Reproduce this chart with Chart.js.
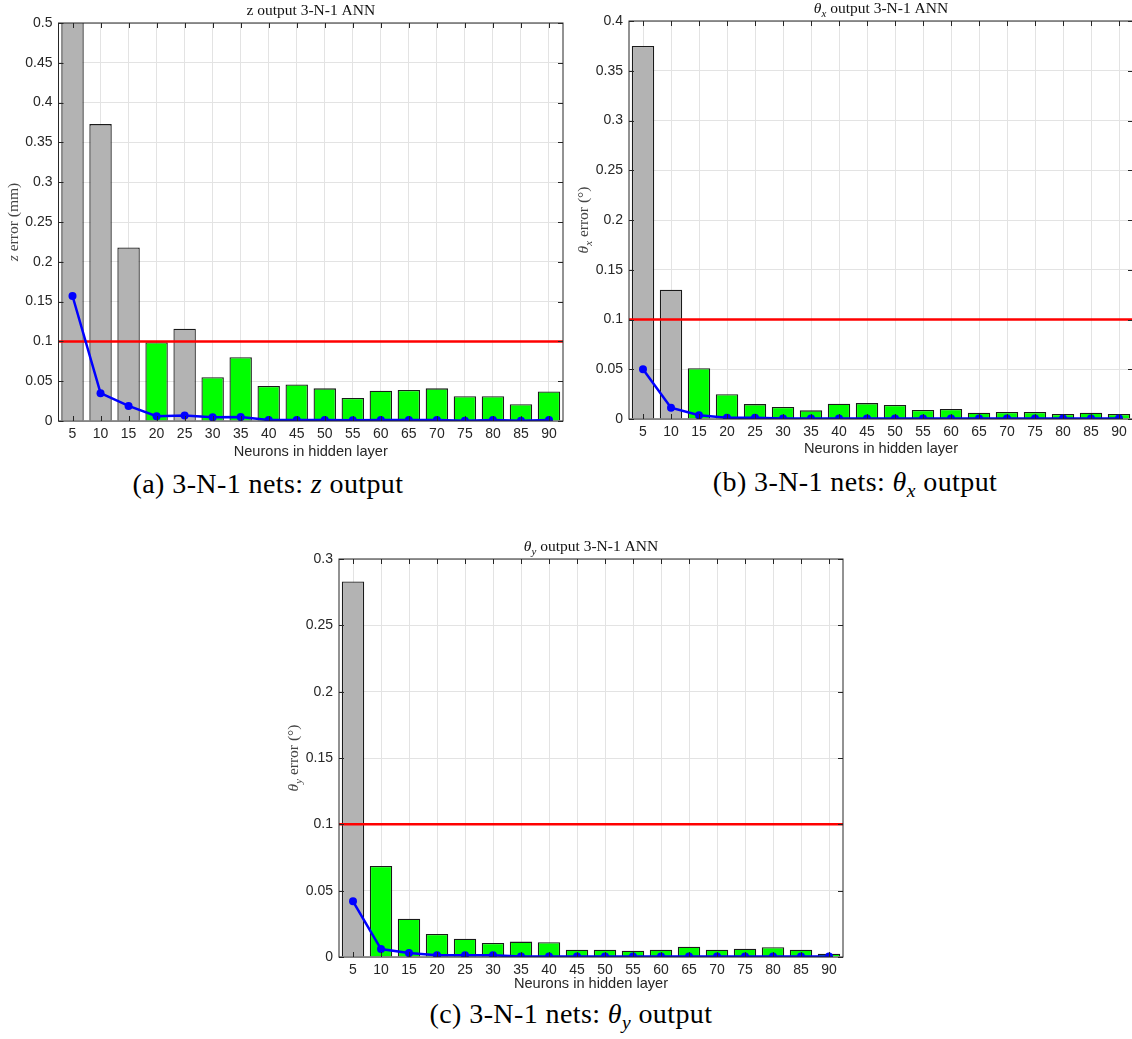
<!DOCTYPE html>
<html>
<head>
<meta charset="utf-8">
<script src="https://cdn.jsdelivr.net/npm/chart.js@4.4.1/dist/chart.umd.min.js"></script>
<style>
  body { margin: 0; width: 1132px; height: 1039px; overflow: hidden; background: #fff; position: relative; }
  canvas { position: absolute; }
  .cap { position: absolute; font-family: 'Liberation Serif', serif; font-size: 28px; color: #000;
         letter-spacing: 0.4px; white-space: nowrap; transform: translate(-50%, -50%); }
  .cap sub { font-size: 70%; vertical-align: -0.3em; }
</style>
</head>
<body>
<canvas id="chartZ" width="580" height="465" style="left:0;top:0"></canvas>
<canvas id="chartTx" width="580" height="462" style="left:570px;top:0"></canvas>
<canvas id="chartTy" width="580" height="462" style="left:280px;top:535px"></canvas>

<div class="cap" style="left:268px;top:484px">(a) 3-N-1 nets: <i>z</i> output</div>
<div class="cap" style="left:855px;top:484px">(b) 3-N-1 nets: <i>θ<sub>x</sub></i> output</div>
<div class="cap" style="left:571px;top:1016px">(c) 3-N-1 nets: <i>θ<sub>y</sub></i> output</div>

<script>
// neurons in the hidden layer
const neurons = [5, 10, 15, 20, 25, 30, 35, 40, 45, 50, 55, 60, 65, 70, 75, 80, 85, 90];
const threshold = 0.1;

// z output (mm)
const zError = [0.62, 0.373, 0.218, 0.099, 0.116, 0.055, 0.080, 0.044, 0.046, 0.041, 0.029,
  0.038, 0.039, 0.041, 0.031, 0.031, 0.021, 0.037];
const zBest = [0.157, 0.035, 0.019, 0.006, 0.007, 0.0046, 0.005, 0.0012, 0.0012, 0.0012, 0.001,
  0.0012, 0.0013, 0.0012, 0.0004, 0.0012, 0.0003, 0.0012];

// theta x output (deg)
const txError = [0.375, 0.130, 0.051, 0.025, 0.015, 0.012, 0.0087, 0.0154, 0.016, 0.014, 0.009,
  0.010, 0.0064, 0.007, 0.007, 0.005, 0.0064, 0.005];
const txBest = [0.050, 0.0114, 0.0037, 0.0013, 0.0012, 0.0004, 0.0004, 0.0004, 0.0004, 0.0004,
  0.0004, 0.0004, 0.0004, 0.0004, 0.0004, 0.0004, 0.0004, 0.0004];

// theta y output (deg)
const tyError = [0.283, 0.0686, 0.0289, 0.0173, 0.0138, 0.0106, 0.0116, 0.0111, 0.0055, 0.0055,
  0.0048, 0.0055, 0.0078, 0.0055, 0.0063, 0.0073, 0.0055, 0.0025];
const tyBest = [0.042, 0.006, 0.003, 0.0013, 0.0013, 0.0013, 0.0003, 0.0003, 0.0003, 0.0003,
  0.0003, 0.0003, 0.0003, 0.0003, 0.0003, 0.0003, 0.0003, 0.0003];

const INK = '#262626';
const GRID = '#e3e3e3';
const SERIF = "'Liberation Serif', serif";
const SANS = "'Liberation Sans', Arial, sans-serif";

// draw a row of text pieces, some italic, some subscript
function drawRich(ctx, parts, x, y, size, color) {
  const fontOf = p => `${p.i ? 'italic ' : ''}${p.sub ? size * 0.7 : size}px ${SERIF}`;
  let total = 0;
  parts.forEach(p => { ctx.font = fontOf(p); total += ctx.measureText(p.t).width; });
  let cx = x - total / 2;
  ctx.fillStyle = color;
  ctx.textBaseline = 'middle';
  ctx.textAlign = 'left';
  parts.forEach(p => {
    ctx.font = fontOf(p);
    ctx.fillText(p.t, cx, p.sub ? y + size * 0.3 : y);
    cx += ctx.measureText(p.t).width;
  });
}

const framePlugin = {
  id: 'frame',
  afterDatasetsDraw(chart, args, opts) {
    const { ctx, chartArea: a, scales: { x, y } } = chart;
    ctx.save();
    ctx.strokeStyle = INK;
    ctx.lineWidth = 1;
    ctx.strokeRect(a.left, a.top, a.right - a.left, a.bottom - a.top);
    ctx.beginPath();
    x.ticks.forEach(t => {
      const px = Math.round(x.getPixelForValue(t.value)) + 0.5;
      ctx.moveTo(px, a.bottom); ctx.lineTo(px, a.bottom - 5);
      ctx.moveTo(px, a.top); ctx.lineTo(px, a.top + 5);
    });
    y.ticks.forEach(t => {
      const py = Math.round(y.getPixelForValue(t.value)) + 0.5;
      ctx.moveTo(a.left, py); ctx.lineTo(a.left + 5, py);
      ctx.moveTo(a.right, py); ctx.lineTo(a.right - 5, py);
    });
    ctx.stroke();

    drawRich(ctx, opts.title, (a.left + a.right) / 2, a.top - 12, 15.5, '#111');
    ctx.translate(14, (a.top + a.bottom) / 2);
    ctx.rotate(-Math.PI / 2);
    drawRich(ctx, opts.yTitle, 0, 0, 15.5, '#444');
    ctx.restore();
  }
};

function makeChart(id, errors, best, yMax, title, yTitle, pad, xHeight) {
  const xMin = neurons[0] - 2.5;
  const xMax = neurons[neurons.length - 1] + 2.5;
  new Chart(document.getElementById(id), {
    type: 'bar',
    data: {
      datasets: [
        {
          type: 'line',
          data: neurons.map((n, i) => ({ x: n, y: best[i] })),
          borderColor: '#0000ff',
          backgroundColor: '#0000ff',
          borderWidth: 2.5,
          pointRadius: 4,
          pointBorderWidth: 0,
          order: 0
        },
        {
          type: 'line',
          data: [{ x: xMin, y: threshold }, { x: xMax, y: threshold }],
          borderColor: '#ff0000',
          borderWidth: 2.5,
          pointRadius: 0,
          order: 1
        },
        {
          data: neurons.map((n, i) => ({ x: n, y: errors[i] })),
          backgroundColor: errors.map(v => v > threshold ? '#b3b3b3' : '#00ff00'),
          borderColor: '#1a1a1a',
          borderWidth: 1.3,
          borderSkipped: 'bottom',
          categoryPercentage: 1,
          barPercentage: 0.8,
          order: 2
        }
      ]
    },
    options: {
      responsive: false,
      animation: false,
      layout: { padding: pad },
      plugins: {
        legend: { display: false },
        tooltip: { enabled: false },
        frame: { title, yTitle }
      },
      scales: {
        x: {
          type: 'linear',
          min: xMin,
          max: xMax,
          offset: false,
          afterBuildTicks: axis => { axis.ticks = neurons.map(v => ({ value: v })); },
          afterFit: axis => { axis.height = xHeight; },
          grid: { color: GRID, drawTicks: false, offset: false },
          border: { display: false },
          ticks: { color: INK, padding: 5, font: { family: SANS, size: 14 }, callback: v => String(v) },
          title: { display: true, text: 'Neurons in hidden layer', color: INK,
                   font: { family: SANS, size: 14.6 }, padding: { top: 4, bottom: 4 } }
        },
        y: {
          min: 0,
          max: yMax,
          afterFit: axis => { axis.width = 58; },
          grid: { color: GRID, drawTicks: false },
          border: { display: false },
          ticks: { stepSize: 0.05, color: INK, padding: 6, font: { family: SANS, size: 14 },
                   callback: v => String(+v.toFixed(2)) }
        }
      }
    },
    plugins: [framePlugin]
  });
}

makeChart('chartZ', zError, zBest, 0.5,
  [{ t: 'z output 3-N-1 ANN' }],
  [{ t: 'z', i: true }, { t: ' error (mm)' }],
  { left: 0.5, top: 23, right: 17, bottom: 0 }, 44);

makeChart('chartTx', txError, txBest, 0.4,
  [{ t: 'θ', i: true }, { t: 'x', i: true, sub: true }, { t: ' output 3-N-1 ANN' }],
  [{ t: 'θ', i: true }, { t: 'x', i: true, sub: true }, { t: ' error (°)' }],
  { left: 1, top: 21, right: 17, bottom: 0 }, 43);

makeChart('chartTy', tyError, tyBest, 0.3,
  [{ t: 'θ', i: true }, { t: 'y', i: true, sub: true }, { t: ' output 3-N-1 ANN' }],
  [{ t: 'θ', i: true }, { t: 'y', i: true, sub: true }, { t: ' error (°)' }],
  { left: 1, top: 24, right: 17, bottom: 0 }, 40);
</script>
</body>
</html>
